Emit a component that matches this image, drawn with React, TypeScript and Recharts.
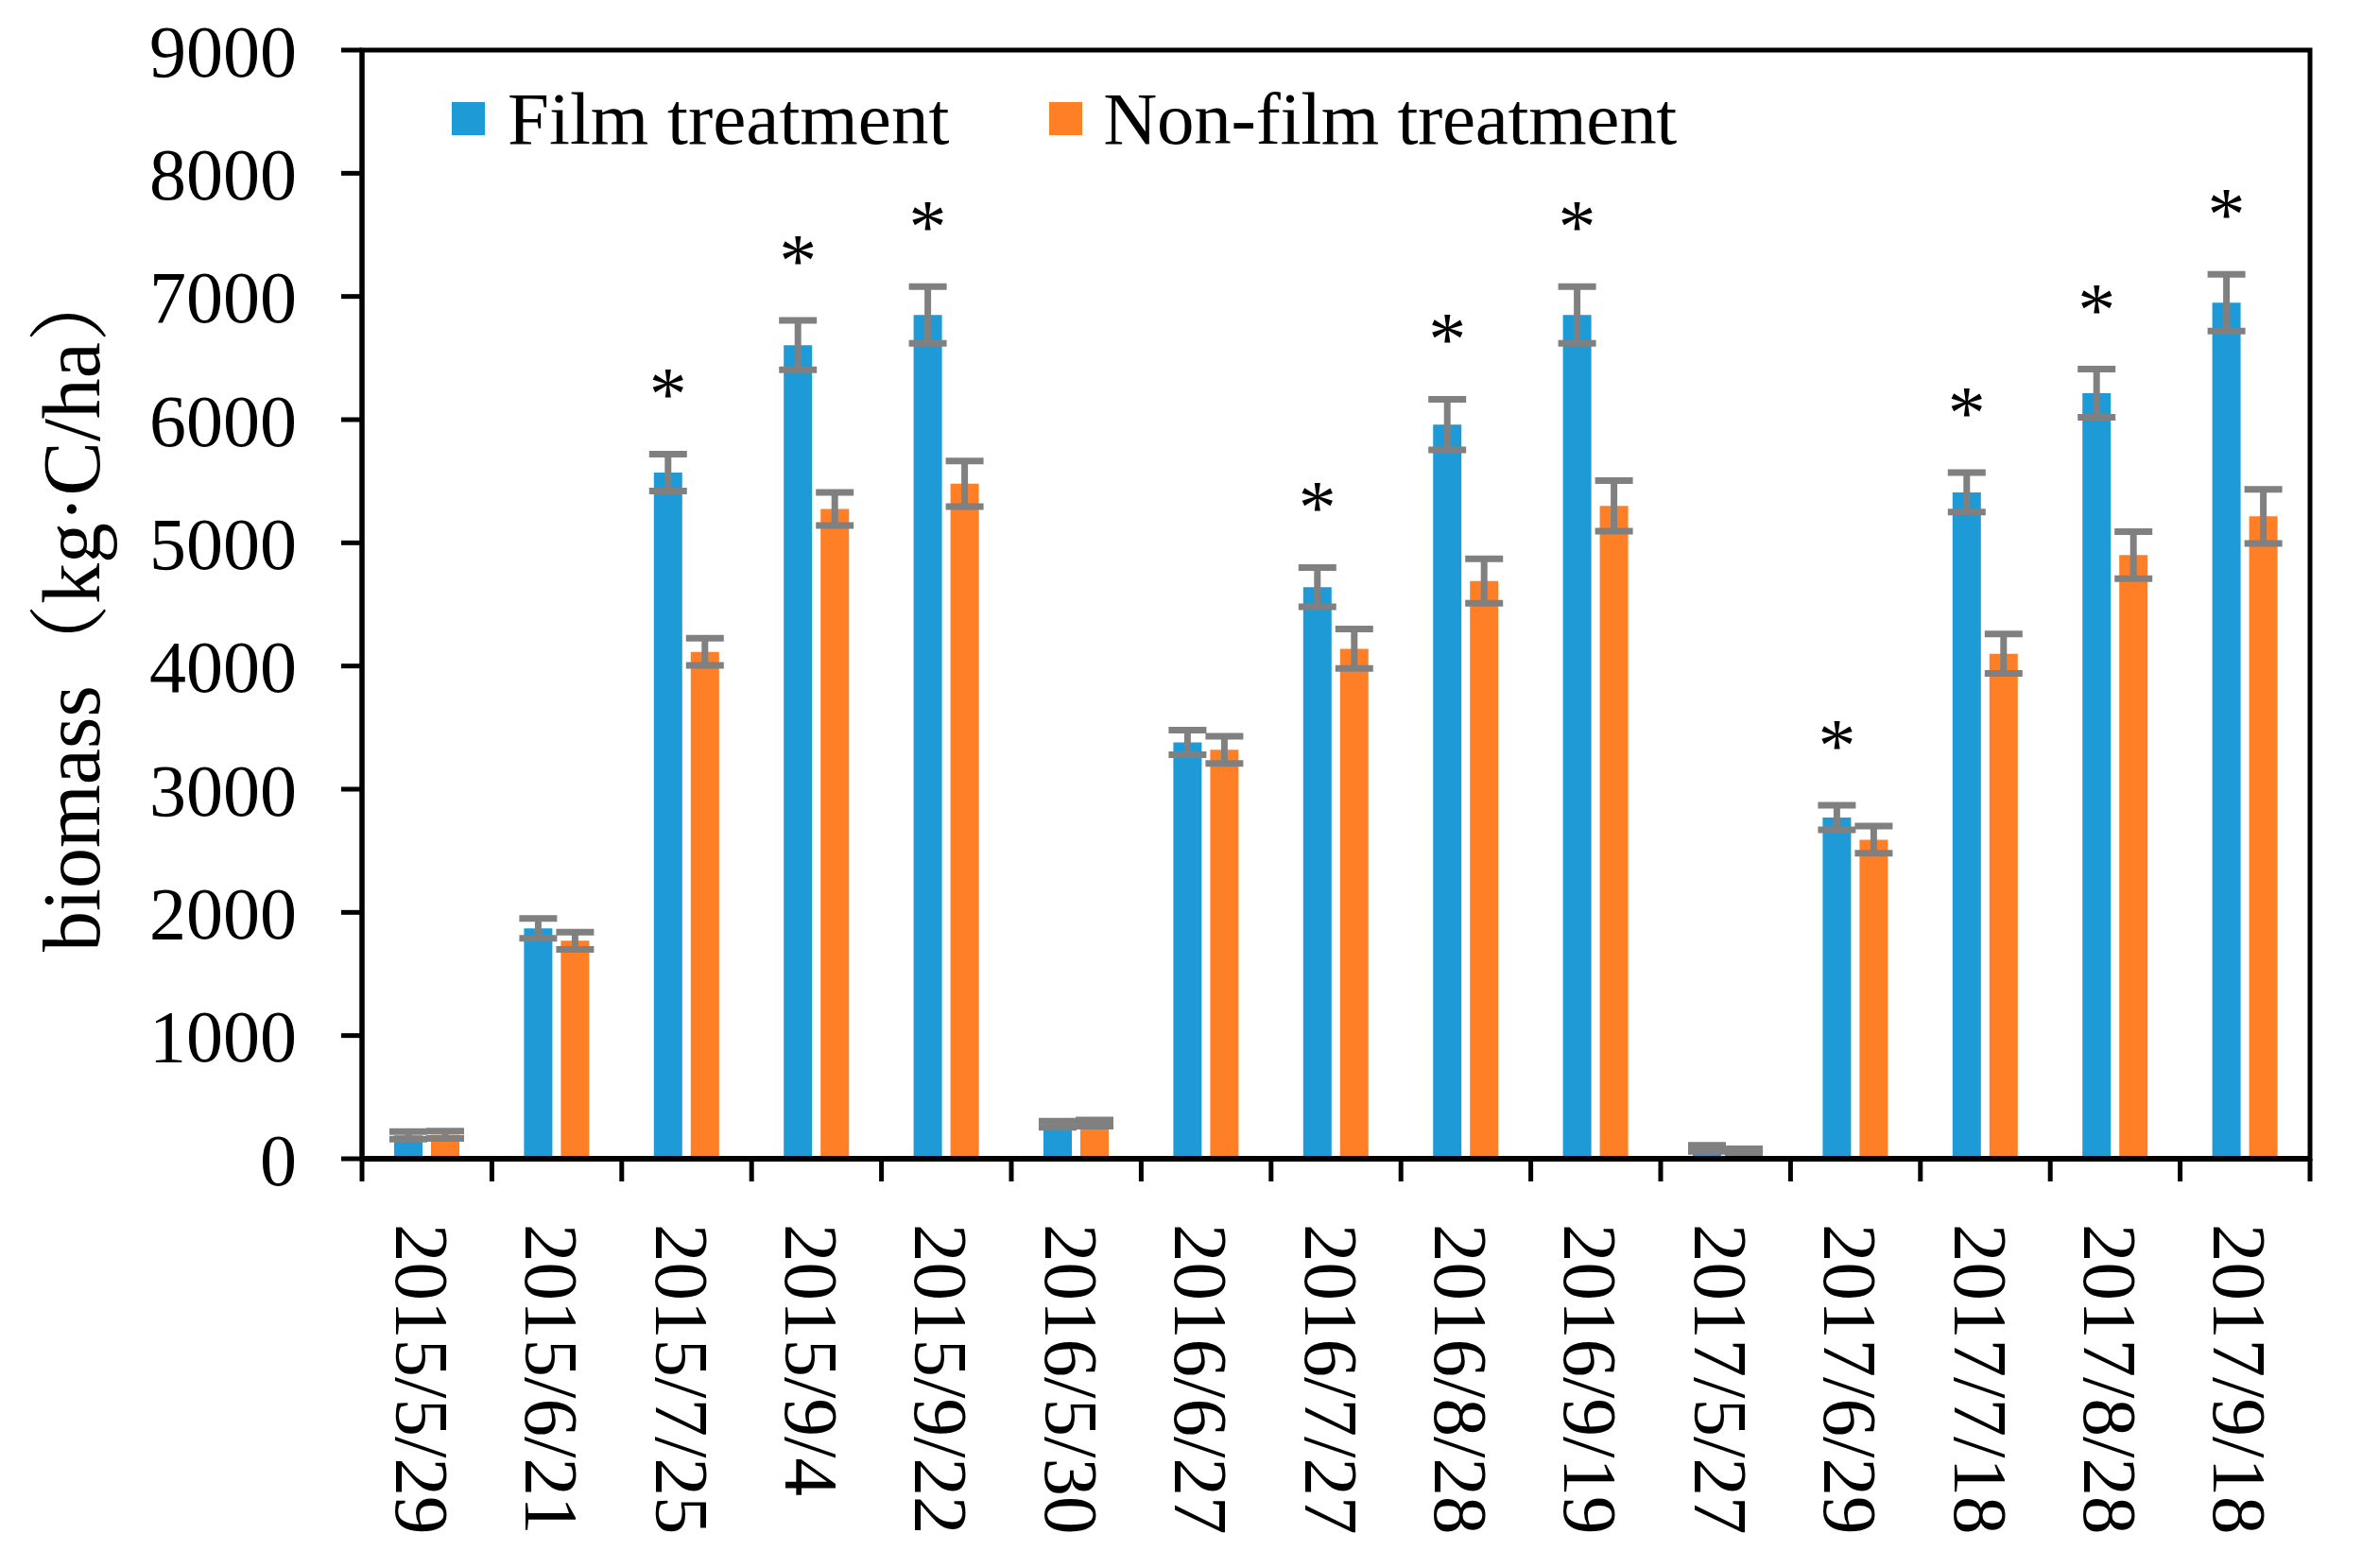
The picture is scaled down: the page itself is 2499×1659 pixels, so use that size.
import React from 'react';
import { BarChart, Bar, XAxis, YAxis, ErrorBar, ReferenceArea, Legend } from 'recharts';

const dates = ['2015/5/29', '2015/6/21', '2015/7/25', '2015/9/4', '2015/9/22', '2016/5/30', '2016/6/27', '2016/7/27', '2016/8/28', '2016/9/19', '2017/5/27', '2017/6/29', '2017/7/18', '2017/8/28', '2017/9/18'];
const film = [190, 1870, 5570, 6605, 6850, 280, 3380, 4640, 5960, 6850, 85, 2770, 5410, 6215, 6950];
const filmErr = [30, 80, 150, 200, 230, 25, 100, 160, 205, 230, 25, 100, 160, 195, 230];
const nonFilm = [195, 1770, 4115, 5275, 5480, 290, 3320, 4140, 4690, 5300, 60, 2590, 4100, 4900, 5215];
const nonFilmErr = [30, 70, 110, 135, 185, 25, 110, 160, 180, 205, 20, 110, 160, 190, 220];
const significant = [false, false, true, true, true, false, false, true, true, true, false, true, true, true, true];
const yTicks = [0, 1000, 2000, 3000, 4000, 5000, 6000, 7000, 8000, 9000];
const seriesNames = ['Film treatment', 'Non-film treatment'];
const yTitle = 'biomass（kg·C/ha）';

const data = dates.map((d, i) => ({
  date: d,
  film: film[i],
  filmErr: filmErr[i],
  nonFilm: nonFilm[i],
  nonFilmErr: nonFilmErr[i],
}));

const FONT = '"Liberation Serif", "Times New Roman", "Noto Serif CJK SC", "Noto Sans CJK SC", serif';
const BLUE = '#1E9BD7';
const ORANGE = '#FF7F27';
const ERR = '#808080';

const XTick = (props: any) => {
  const { x, y, payload, index, width, visibleTicksCount } = props;
  let half = 0;
  if (typeof width === 'number' && typeof visibleTicksCount === 'number' && visibleTicksCount > 0) {
    half = width / visibleTicksCount / 2;
  } else if (payload && typeof payload.offset === 'number') {
    half = payload.offset;
  }
  const lx = x - 33;
  const ly = y + 69;
  return (
    <g>
      <line x1={x - half} y1={y} x2={x - half} y2={y + 24} stroke="#000" strokeWidth={5} />
      {index === visibleTicksCount - 1 && (
        <line x1={x + half} y1={y} x2={x + half} y2={y + 24} stroke="#000" strokeWidth={5} />
      )}
      <text
        x={lx}
        y={ly}
        transform={`rotate(90 ${lx} ${ly})`}
        textAnchor="start"
        fontFamily={FONT}
        fontSize={81}
        fill="#000"
      >
        {payload.value}
      </text>
    </g>
  );
};

const starLabel = (props: any) => {
  const { x, y, width, height, value, index } = props;
  if (!significant[index] || !value) return null;
  const errPx = (filmErr[index] / value) * height;
  const cx = x + width / 2;
  const cy = y - errPx - 36;
  return (
    <text x={cx} y={cy} textAnchor="middle" fontFamily={FONT} fontSize={80} fill="#000">
      *
    </text>
  );
};

const renderLegend = () => (
  <div
    style={{
      display: 'flex',
      alignItems: 'center',
      fontFamily: FONT,
      fontSize: 79,
      color: '#000',
      lineHeight: 1,
      whiteSpace: 'nowrap',
    }}
  >
    <span style={{ width: 35, height: 35, background: BLUE, display: 'inline-block', marginRight: 24 }} />
    <span style={{ marginRight: 106 }}>{seriesNames[0]}</span>
    <span style={{ width: 35, height: 35, background: ORANGE, display: 'inline-block', marginRight: 22 }} />
    <span style={{ letterSpacing: -0.3 }}>{seriesNames[1]}</span>
  </div>
);

const YTitle = (props: any) => {
  const vb = props.viewBox || { x: 0, y: 45, width: 375, height: 1173 };
  const tx = 97;
  const ty = vb.y + vb.height / 2 + 2;
  return (
    <text
      x={tx}
      y={ty}
      transform={`rotate(-90 ${tx} ${ty})`}
      textAnchor="middle"
      fontFamily={FONT}
      fontSize={86}
      fill="#000"
    >
      {yTitle}
    </text>
  );
};

export default function App() {
  return (
    <div style={{ width: 2483, height: 1643, background: '#fff' }}>
      <BarChart
        width={2483}
        height={1643}
        data={data}
        margin={{ top: 45, right: 47, bottom: 0, left: 0 }}
        barSize={30}
        barGap={9}
      >
        <XAxis
          dataKey="date"
          interval={0}
          height={425}
          tickSize={0}
          tickMargin={0}
          tickLine={false}
          tick={<XTick />}
          axisLine={{ stroke: '#000', strokeWidth: 6 }}
        />
        <YAxis
          width={375}
          domain={[0, 9000]}
          ticks={yTicks}
          interval={0}
          tickSize={22}
          tickMargin={47}
          tickLine={{ stroke: '#000', strokeWidth: 5 }}
          axisLine={{ stroke: '#000', strokeWidth: 5 }}
          tick={{ fontFamily: FONT, fontSize: 78, fill: '#000' }}
          label={<YTitle />}
        />
        <ReferenceArea y1={0} y2={9000} fill="none" stroke="#000" strokeWidth={5} ifOverflow="visible" />
        <Legend
          content={renderLegend}
          layout="horizontal"
          verticalAlign="middle"
          align="center"
          wrapperStyle={{ top: 78, left: 470, width: 'auto' }}
        />
        <Bar dataKey="film" fill={BLUE} isAnimationActive={false} label={starLabel}>
          <ErrorBar dataKey="filmErr" direction="y" width={20} strokeWidth={7} stroke={ERR} />
        </Bar>
        <Bar dataKey="nonFilm" fill={ORANGE} isAnimationActive={false}>
          <ErrorBar dataKey="nonFilmErr" direction="y" width={20} strokeWidth={7} stroke={ERR} />
        </Bar>
      </BarChart>
    </div>
  );
}
